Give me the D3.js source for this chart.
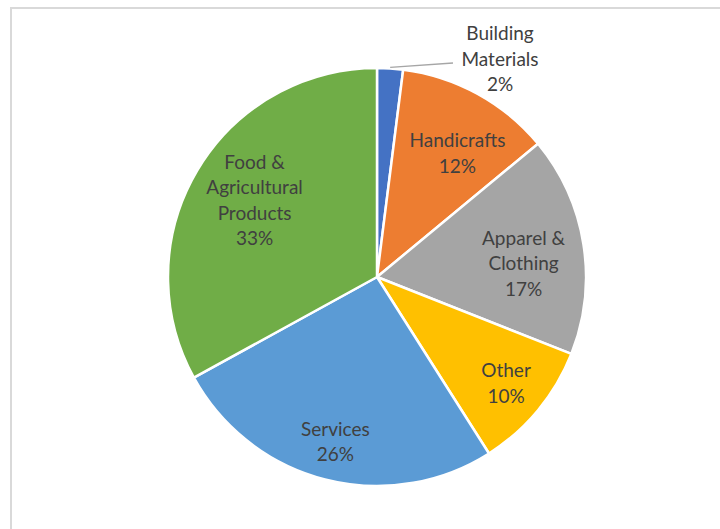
<!DOCTYPE html>
<html>
<head>
<meta charset="utf-8">
<script src="https://cdn.jsdelivr.net/npm/d3@7"></script>
<style>
  html, body { margin: 0; padding: 0; background: #ffffff; }
  svg { display: block; }
</style>
</head>
<body>
<svg id="chart" width="720" height="529"></svg>
<script>
// Share of businesses by sector (percent)
const categories = ["Building Materials", "Handicrafts", "Apparel & Clothing", "Other", "Services", "Food & Agricultural Products"];
const shares = [2, 12, 17, 10, 26, 33];
const colors = ["#4472C4", "#ED7D31", "#A5A5A5", "#FFC000", "#5B9BD5", "#70AD47"];

// Label text split into lines as displayed
const labelLines = [
  ["Building", "Materials"],
  ["Handicrafts"],
  ["Apparel &", "Clothing"],
  ["Other"],
  ["Services"],
  ["Food &", "Agricultural", "Products"]
];

const width = 720, height = 529;
const cx = 377, cy = 277, radius = 209;

const svg = d3.select("#chart");

// Chart area frame
svg.append("rect")
  .attr("x", 11).attr("y", 8)
  .attr("width", 760).attr("height", 560)
  .attr("fill", "#ffffff")
  .attr("stroke", "#d9d9d9")
  .attr("stroke-width", 2);

const data = categories.map((c, i) => ({ name: c, value: shares[i], color: colors[i], lines: labelLines[i] }));

const pie = d3.pie().value(d => d.value).sort(null);
const arcs = pie(data);

const arc = d3.arc().innerRadius(0).outerRadius(radius);

const g = svg.append("g").attr("transform", `translate(${cx},${cy})`);

g.selectAll("path.slice")
  .data(arcs)
  .join("path")
  .attr("class", "slice")
  .attr("d", arc)
  .attr("fill", d => d.data.color)
  .attr("stroke", "#ffffff")
  .attr("stroke-width", 2.5)
  .attr("stroke-linejoin", "round");

// Label placement: fraction of radius along the slice's mid-angle, plus a small nudge
const labelLayout = {
  "Handicrafts": { k: 0.68, dx: 12, dy: 1 },
  "Apparel & Clothing": { k: 0.71, dx: 0, dy: 10 },
  "Other": { k: 0.82, dx: -3, dy: -3 },
  "Services": { k: 0.84, dx: 2, dy: -5 },
  "Food & Agricultural Products": { k: 0.675, dx: -1, dy: -5 }
};

const fontFamily = "Lato, 'Liberation Sans', sans-serif";
const fontSize = 19;
const lineHeight = 25.5;

function drawLabel(lines, x, y) {
  const t = g.append("text")
    .attr("text-anchor", "middle")
    .attr("font-family", fontFamily)
    .attr("font-size", fontSize)
    .attr("fill", "#404040");
  const n = lines.length;
  lines.forEach((ln, i) => {
    t.append("tspan")
      .attr("x", x)
      .attr("y", y + (i - (n - 1) / 2) * lineHeight)
      .attr("dy", "0.35em")
      .text(ln);
  });
}

arcs.forEach(a => {
  const mid = (a.startAngle + a.endAngle) / 2;
  const lines = a.data.lines.concat([a.data.value + "%"]);
  const lay = labelLayout[a.data.name];
  if (lay) {
    const r = radius * lay.k;
    const x = Math.sin(mid) * r + lay.dx;
    const y = -Math.cos(mid) * r + lay.dy;
    drawLabel(lines, x, y);
  } else {
    // Small slice: label outside with a leader line
    const x0 = Math.sin(mid) * (radius + 1);
    const y0 = -Math.cos(mid) * (radius + 1);
    const lx = 123, ly = -218;
    g.append("line")
      .attr("x1", x0).attr("y1", y0)
      .attr("x2", lx - 47).attr("y2", ly + 4)
      .attr("stroke", "#a6a6a6")
      .attr("stroke-width", 1.3);
    drawLabel(lines, lx, ly);
  }
});
</script>
</body>
</html>
